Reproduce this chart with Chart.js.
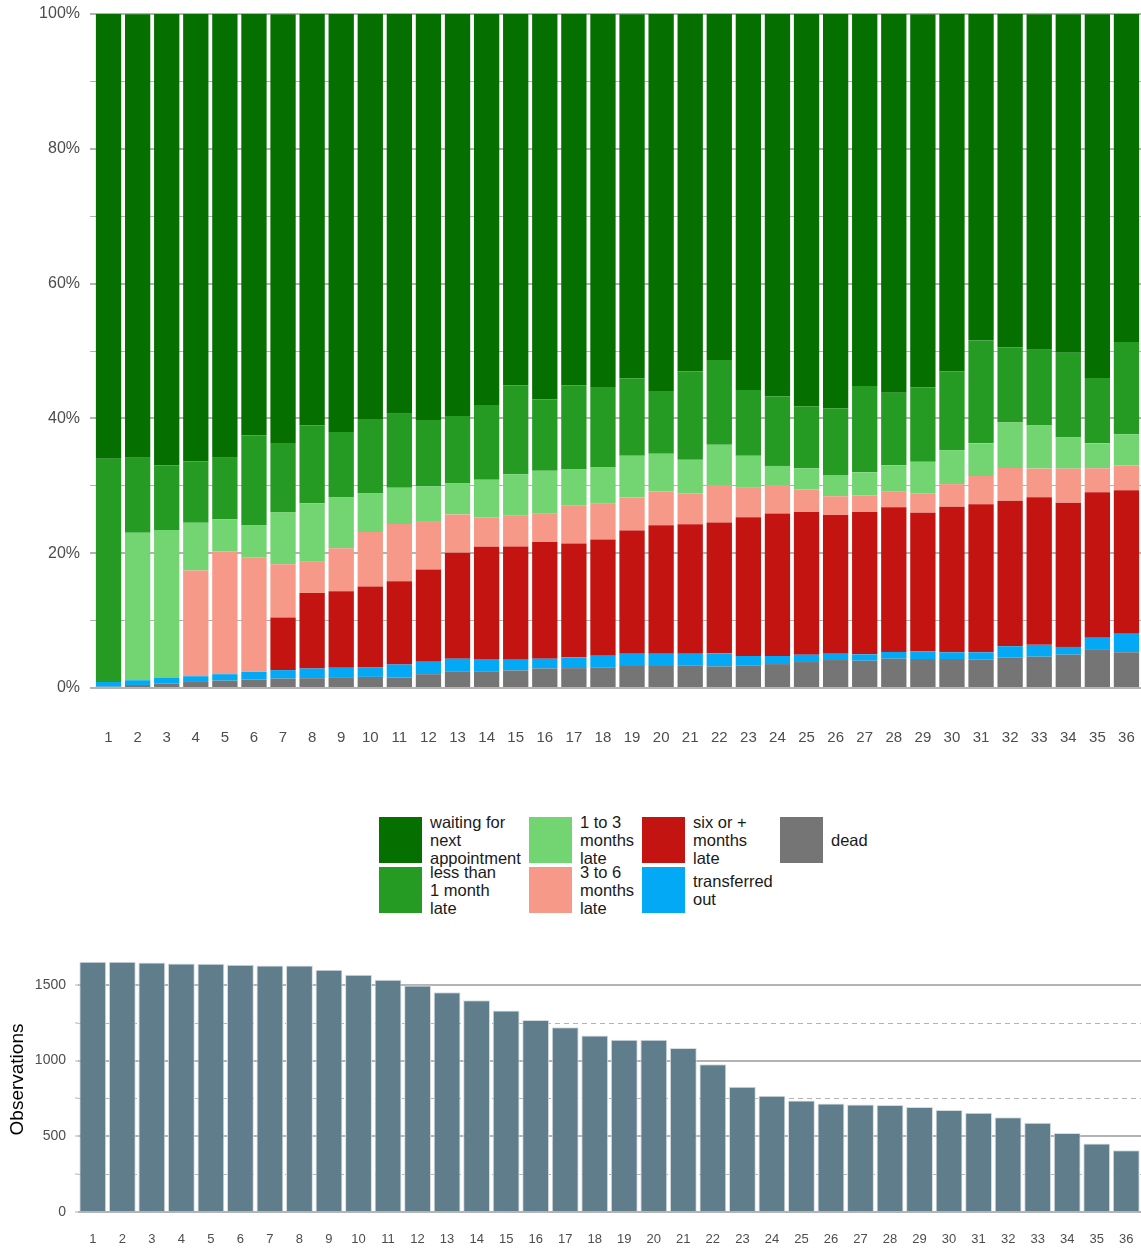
<!DOCTYPE html>
<html lang="en">
<head>
<meta charset="UTF-8">
<title>Appointment status by month</title>
<script src="https://cdn.jsdelivr.net/npm/chart.js@4.4.1/dist/chart.umd.min.js"></script>
<style>
  body { margin: 0; background: #fff; font-family: 'Liberation Sans', Arial, sans-serif; }
  #wrap { position: relative; width: 1141px; height: 1251px; }
  #topChart { position: absolute; left: 0; top: 0; }
  #bottomChart { position: absolute; left: 0; top: 940px; }
  #legend {
    position: absolute; left: 379px; top: 817px;
    display: grid; grid-auto-flow: column;
    grid-template-rows: 46px 46px; row-gap: 4px;
    grid-template-columns: 150px 113px 138px auto;
  }
  .item { display: flex; align-items: center; height: 46px; }
  .key { width: 43px; height: 46px; flex: none; margin-right: 8px; }
  .txt { font-size: 16.5px; line-height: 18px; color: #1a1a1a; white-space: pre; }
</style>
</head>
<body>
<div id="wrap">
  <canvas id="topChart" width="1141" height="760"></canvas>
  <div id="legend"></div>
  <canvas id="bottomChart" width="1141" height="311"></canvas>
</div>
<script>
// months since first visit
const months = ['1','2','3','4','5','6','7','8','9','10','11','12','13','14','15','16','17','18',
                '19','20','21','22','23','24','25','26','27','28','29','30','31','32','33','34','35','36'];

// share of patients per status (%), stacked from the bottom up
const dead = [0.2, 0.45, 0.64, 0.9, 1.1, 1.25, 1.4, 1.45, 1.5, 1.65, 1.55, 2.05, 2.4, 2.4, 2.6, 2.9, 2.95, 3.0,
              3.4, 3.4, 3.3, 3.2, 3.3, 3.55, 3.85, 4.15, 4.05, 4.35, 4.3, 4.3, 4.2, 4.5, 4.65, 4.95, 5.65, 5.3];
const transferred = [0.7, 0.7, 0.85, 0.85, 0.95, 1.15, 1.25, 1.45, 1.5, 1.45, 1.95, 1.85, 1.95, 1.9, 1.6, 1.45, 1.6, 1.8,
                     1.7, 1.7, 1.8, 1.95, 1.45, 1.2, 1.1, 0.95, 0.95, 1.0, 1.1, 1.0, 1.1, 1.7, 1.75, 1.15, 1.8, 2.75];
const sixPlus = [0, 0, 0, 0, 0, 0, 7.8, 11.2, 11.35, 11.95, 12.35, 13.7, 15.7, 16.65, 16.8, 17.3, 16.9, 17.25,
                 18.25, 19.05, 19.2, 19.4, 20.6, 21.15, 21.15, 20.55, 21.1, 21.45, 20.6, 21.6, 21.95, 21.6, 21.9, 21.4, 21.6, 21.3];
const threeToSix = [0, 0, 0, 15.67, 18.2, 16.95, 7.9, 4.65, 6.4, 8.1, 8.5, 7.05, 5.7, 4.35, 4.55, 4.2, 5.65, 5.3,
                    4.9, 5.0, 4.55, 5.55, 4.45, 4.2, 3.35, 2.8, 2.45, 2.4, 2.9, 3.35, 4.2, 4.85, 4.25, 5.05, 3.55, 3.65];
const oneToThree = [0, 21.9, 21.97, 7.1, 4.8, 4.75, 7.7, 8.65, 7.5, 5.7, 5.35, 5.25, 4.6, 5.6, 6.15, 6.4, 5.3, 5.35,
                    6.2, 5.6, 5.0, 6.0, 4.65, 2.85, 3.15, 3.15, 3.45, 3.85, 4.65, 5.05, 4.85, 6.75, 6.4, 4.6, 3.7, 4.65];
const lessThanOne = [33.1, 11.1, 9.57, 9.1, 9.1, 13.35, 10.3, 11.6, 9.75, 11.05, 11.0, 9.85, 10.0, 11.1, 13.2, 10.55, 12.5, 11.95,
                     11.5, 9.3, 13.1, 12.55, 9.75, 10.3, 9.2, 9.9, 12.8, 10.75, 11.05, 11.65, 15.25, 11.15, 11.25, 12.6, 9.7, 13.7];
const waiting = [66.0, 65.8, 67.0, 66.4, 65.9, 62.55, 63.6, 61.0, 62.05, 60.1, 59.3, 60.25, 59.65, 58.0, 55.1, 57.2, 55.1, 55.35,
                 54.0, 55.95, 53.05, 51.35, 55.8, 56.75, 58.2, 58.5, 55.2, 56.2, 55.35, 53.1, 48.45, 49.45, 49.75, 50.2, 53.95, 48.65];

// number of observations per month
const observations = [1652, 1652, 1648, 1641, 1639, 1632, 1628, 1628, 1599, 1566, 1533, 1495, 1451, 1398, 1330, 1268, 1220, 1165,
                      1138, 1138, 1083, 975, 827, 768, 737, 717, 710, 706, 693, 673, 655, 626, 589, 521, 452, 408];

// legend labels (already wrapped) and colours, bottom of stack first
const statusLabels = ['dead', 'transferred\nout', 'six or +\nmonths\nlate', '3 to 6\nmonths\nlate',
                      '1 to 3\nmonths\nlate', 'less than\n1 month\nlate', 'waiting for\nnext\nappointment'];
const statusColors = ['#757575', '#03a9f4', '#c41411', '#f69988', '#72d572', '#259b24', '#056f00'];
const statusValues = [dead, transferred, sixPlus, threeToSix, oneToThree, lessThanOne, waiting];

const tickColor = '#4d4d4d';
const gridColor = '#b3b3b3';
Chart.defaults.font.family = "'Liberation Sans', Arial, sans-serif";

// keep Chart.js from reserving room for label overflow, so the panels sit where the original has them
const noPadX = s => { s.paddingLeft = 0; s.paddingRight = 0; };
const noPadY = s => { s.paddingTop = 0; s.paddingBottom = 0; };

new Chart(document.getElementById('topChart'), {
  type: 'bar',
  data: {
    labels: months,
    datasets: statusValues.map((vals, i) => ({
      label: statusLabels[i],
      data: vals,
      backgroundColor: statusColors[i],
      barPercentage: 0.87,
      categoryPercentage: 1
    }))
  },
  options: {
    responsive: false,
    animation: false,
    layout: { padding: { top: 14, left: 0, right: 0, bottom: 0 } },
    plugins: { legend: { display: false }, tooltip: { enabled: false } },
    scales: {
      x: {
        stacked: true,
        grid: { display: false, drawTicks: false },
        border: { display: false },
        ticks: { color: tickColor, font: { size: 15 }, padding: 41, maxRotation: 0, autoSkip: false },
        afterFit: s => { s.height = 72; noPadX(s); }
      },
      y: {
        stacked: true,
        min: 0,
        max: 100,
        border: { display: false },
        grid: {
          color: gridColor,
          lineWidth: c => (c.tick && c.tick.value % 20 === 0) ? 2 : 1,
          tickLength: 4,
          tickColor: gridColor
        },
        ticks: {
          stepSize: 10,
          color: tickColor,
          font: { size: 16 },
          padding: 10,
          callback: v => v % 20 === 0 ? v + '%' : ''
        },
        afterFit: s => { s.width = 94; noPadY(s); }
      }
    }
  }
});

// legend, column by column like the original
const legend = document.getElementById('legend');
for (let i = statusLabels.length - 1; i >= 0; i--) {
  const item = document.createElement('div');
  item.className = 'item';
  item.innerHTML = '<div class="key" style="background:' + statusColors[i] + '"></div>' +
                   '<div class="txt"></div>';
  item.querySelector('.txt').textContent = statusLabels[i];
  legend.appendChild(item);
}

// dashed minor gridlines behind the bars
const minorGrid = {
  id: 'minorGrid',
  beforeDatasetsDraw(chart) {
    const { ctx, chartArea, scales } = chart;
    ctx.save();
    ctx.strokeStyle = gridColor;
    ctx.lineWidth = 1;
    ctx.setLineDash([5, 4]);
    [250, 750, 1250].forEach(v => {
      const y = Math.round(scales.y.getPixelForValue(v)) + 0.5;
      ctx.beginPath();
      ctx.moveTo(chartArea.left, y);
      ctx.lineTo(chartArea.right, y);
      ctx.stroke();
    });
    ctx.restore();
  }
};

new Chart(document.getElementById('bottomChart'), {
  type: 'bar',
  data: {
    labels: months,
    datasets: [{
      data: observations,
      backgroundColor: '#607d8b',
      borderColor: '#d5dde1',
      borderWidth: 1,
      barPercentage: 0.91,
      categoryPercentage: 1
    }]
  },
  options: {
    responsive: false,
    animation: false,
    layout: { padding: { top: 7, left: 0, right: 0, bottom: 0 } },
    plugins: { legend: { display: false }, tooltip: { enabled: false } },
    scales: {
      x: {
        grid: { display: false, drawTicks: false },
        border: { display: false },
        ticks: { color: tickColor, font: { size: 13 }, padding: 20, maxRotation: 0, autoSkip: false },
        afterFit: s => { s.height = 39; noPadX(s); }
      },
      y: {
        min: 0,
        max: 1750,
        border: { display: false },
        grid: {
          color: c => (c.tick && c.tick.value % 500 === 0 && c.tick.value <= 1500) ? gridColor : 'rgba(0,0,0,0)',
          lineWidth: 2,
          tickLength: 3,
          tickWidth: 1,
          tickColor: c => (c.tick && c.tick.value <= 1500) ? gridColor : 'rgba(0,0,0,0)'
        },
        ticks: {
          stepSize: 250,
          autoSkip: false,
          color: tickColor,
          font: { size: 14 },
          padding: 9,
          callback: v => (v % 500 === 0 && v <= 1500) ? v : ''
        },
        title: { display: true, text: 'Observations', color: '#000', font: { size: 19 }, padding: { top: 6, bottom: 0 } },
        afterFit: s => { s.width = 78; noPadY(s); }
      }
    }
  },
  plugins: [minorGrid]
});
</script>
</body>
</html>
